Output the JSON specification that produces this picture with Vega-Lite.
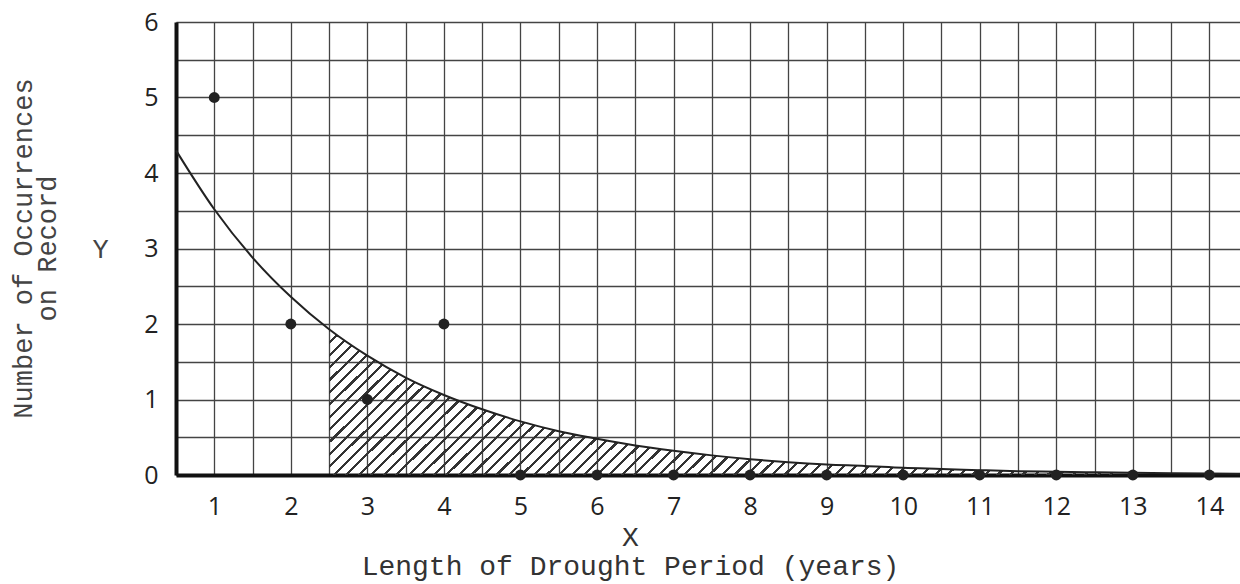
{
"$schema": "https://vega.github.io/schema/vega-lite/v6.json",
"width": 1064, "height": 453,
"autosize": {"type": "none"},
"padding": {"left": 176, "top": 22, "right": 0, "bottom": 109},
"background": "white",
"config": {"view": {"stroke": null}},
"title": {"text": ["Number of Occurrences", "on Record"], "orient": "left", "anchor": "middle", "frame": "group", "font": "Liberation Mono", "fontSize": 27, "fontWeight": "normal", "color": "#444", "lineHeight": 24, "offset": 30},
"datasets": {
"curve": [
{"x": 0.5, "y": 4.3}, {"x": 1.0, "y": 3.52}, {"x": 1.5, "y": 2.88}, {"x": 2.0, "y": 2.36}, {"x": 2.5, "y": 1.93},
{"x": 3.0, "y": 1.58}, {"x": 3.5, "y": 1.29}, {"x": 4.0, "y": 1.06}, {"x": 4.5, "y": 0.87}, {"x": 5.0, "y": 0.71},
{"x": 5.5, "y": 0.58}, {"x": 6.0, "y": 0.48}, {"x": 6.5, "y": 0.39}, {"x": 7.0, "y": 0.32}, {"x": 7.5, "y": 0.26},
{"x": 8.0, "y": 0.21}, {"x": 8.5, "y": 0.17}, {"x": 9.0, "y": 0.14}, {"x": 9.5, "y": 0.12}, {"x": 10.0, "y": 0.095},
{"x": 10.5, "y": 0.08}, {"x": 11.0, "y": 0.064}, {"x": 11.5, "y": 0.05}, {"x": 12.0, "y": 0.043}, {"x": 12.5, "y": 0.035},
{"x": 13.0, "y": 0.029}, {"x": 13.5, "y": 0.024}, {"x": 14.0, "y": 0.019}, {"x": 14.4, "y": 0.016}
],
"points": [
{"x": 1, "y": 5}, {"x": 2, "y": 2}, {"x": 3, "y": 1}, {"x": 4, "y": 2}, {"x": 5, "y": 0}, {"x": 6, "y": 0}, {"x": 7, "y": 0},
{"x": 8, "y": 0}, {"x": 9, "y": 0}, {"x": 10, "y": 0}, {"x": 11, "y": 0}, {"x": 12, "y": 0}, {"x": 13, "y": 0}, {"x": 14, "y": 0}
]
},
"layer": [
{
"data": {"name": "curve"},
"transform": [{"filter": "datum.x >= 2.5"}],
"mark": {"type": "area", "interpolate": "monotone", "fill": {"gradient": "linear", "x1": 0, "y1": 0, "x2": 1, "y2": 0.1618, "stops": [
{"offset":0,"color":"#333"},{"offset":0.0034,"color":"#333"},{"offset":0.0034,"color":"rgba(0,0,0,0)"},{"offset":0.0134,"color":"rgba(0,0,0,0)"},
{"offset":0.0134,"color":"#333"},{"offset":0.0168,"color":"#333"},{"offset":0.0168,"color":"rgba(0,0,0,0)"},{"offset":0.0268,"color":"rgba(0,0,0,0)"},
{"offset":0.0268,"color":"#333"},{"offset":0.0302,"color":"#333"},{"offset":0.0302,"color":"rgba(0,0,0,0)"},{"offset":0.0402,"color":"rgba(0,0,0,0)"},
{"offset":0.0402,"color":"#333"},{"offset":0.0436,"color":"#333"},{"offset":0.0436,"color":"rgba(0,0,0,0)"},{"offset":0.0536,"color":"rgba(0,0,0,0)"},
{"offset":0.0536,"color":"#333"},{"offset":0.057,"color":"#333"},{"offset":0.057,"color":"rgba(0,0,0,0)"},{"offset":0.067,"color":"rgba(0,0,0,0)"},
{"offset":0.067,"color":"#333"},{"offset":0.0704,"color":"#333"},{"offset":0.0704,"color":"rgba(0,0,0,0)"},{"offset":0.0804,"color":"rgba(0,0,0,0)"},
{"offset":0.0804,"color":"#333"},{"offset":0.0838,"color":"#333"},{"offset":0.0838,"color":"rgba(0,0,0,0)"},{"offset":0.0938,"color":"rgba(0,0,0,0)"},
{"offset":0.0938,"color":"#333"},{"offset":0.0972,"color":"#333"},{"offset":0.0972,"color":"rgba(0,0,0,0)"},{"offset":0.1072,"color":"rgba(0,0,0,0)"},
{"offset":0.1072,"color":"#333"},{"offset":0.1106,"color":"#333"},{"offset":0.1106,"color":"rgba(0,0,0,0)"},{"offset":0.1206,"color":"rgba(0,0,0,0)"},
{"offset":0.1206,"color":"#333"},{"offset":0.124,"color":"#333"},{"offset":0.124,"color":"rgba(0,0,0,0)"},{"offset":0.134,"color":"rgba(0,0,0,0)"},
{"offset":0.134,"color":"#333"},{"offset":0.1374,"color":"#333"},{"offset":0.1374,"color":"rgba(0,0,0,0)"},{"offset":0.1474,"color":"rgba(0,0,0,0)"},
{"offset":0.1474,"color":"#333"},{"offset":0.1508,"color":"#333"},{"offset":0.1508,"color":"rgba(0,0,0,0)"},{"offset":0.1608,"color":"rgba(0,0,0,0)"},
{"offset":0.1608,"color":"#333"},{"offset":0.1642,"color":"#333"},{"offset":0.1642,"color":"rgba(0,0,0,0)"},{"offset":0.1742,"color":"rgba(0,0,0,0)"},
{"offset":0.1742,"color":"#333"},{"offset":0.1776,"color":"#333"},{"offset":0.1776,"color":"rgba(0,0,0,0)"},{"offset":0.1876,"color":"rgba(0,0,0,0)"},
{"offset":0.1876,"color":"#333"},{"offset":0.191,"color":"#333"},{"offset":0.191,"color":"rgba(0,0,0,0)"},{"offset":0.201,"color":"rgba(0,0,0,0)"},
{"offset":0.201,"color":"#333"},{"offset":0.2044,"color":"#333"},{"offset":0.2044,"color":"rgba(0,0,0,0)"},{"offset":0.2144,"color":"rgba(0,0,0,0)"},
{"offset":0.2144,"color":"#333"},{"offset":0.2178,"color":"#333"},{"offset":0.2178,"color":"rgba(0,0,0,0)"},{"offset":0.2278,"color":"rgba(0,0,0,0)"},
{"offset":0.2278,"color":"#333"},{"offset":0.2312,"color":"#333"},{"offset":0.2312,"color":"rgba(0,0,0,0)"},{"offset":0.2412,"color":"rgba(0,0,0,0)"},
{"offset":0.2412,"color":"#333"},{"offset":0.2446,"color":"#333"},{"offset":0.2446,"color":"rgba(0,0,0,0)"},{"offset":0.2546,"color":"rgba(0,0,0,0)"},
{"offset":0.2546,"color":"#333"},{"offset":0.258,"color":"#333"},{"offset":0.258,"color":"rgba(0,0,0,0)"},{"offset":0.268,"color":"rgba(0,0,0,0)"},
{"offset":0.268,"color":"#333"},{"offset":0.2714,"color":"#333"},{"offset":0.2714,"color":"rgba(0,0,0,0)"},{"offset":0.2814,"color":"rgba(0,0,0,0)"},
{"offset":0.2814,"color":"#333"},{"offset":0.2848,"color":"#333"},{"offset":0.2848,"color":"rgba(0,0,0,0)"},{"offset":0.2948,"color":"rgba(0,0,0,0)"},
{"offset":0.2948,"color":"#333"},{"offset":0.2982,"color":"#333"},{"offset":0.2982,"color":"rgba(0,0,0,0)"},{"offset":0.3082,"color":"rgba(0,0,0,0)"},
{"offset":0.3082,"color":"#333"},{"offset":0.3116,"color":"#333"},{"offset":0.3116,"color":"rgba(0,0,0,0)"},{"offset":0.3216,"color":"rgba(0,0,0,0)"},
{"offset":0.3216,"color":"#333"},{"offset":0.325,"color":"#333"},{"offset":0.325,"color":"rgba(0,0,0,0)"},{"offset":0.335,"color":"rgba(0,0,0,0)"},
{"offset":0.335,"color":"#333"},{"offset":0.3384,"color":"#333"},{"offset":0.3384,"color":"rgba(0,0,0,0)"},{"offset":0.3484,"color":"rgba(0,0,0,0)"},
{"offset":0.3484,"color":"#333"},{"offset":0.3518,"color":"#333"},{"offset":0.3518,"color":"rgba(0,0,0,0)"},{"offset":0.3618,"color":"rgba(0,0,0,0)"},
{"offset":0.3618,"color":"#333"},{"offset":0.3652,"color":"#333"},{"offset":0.3652,"color":"rgba(0,0,0,0)"},{"offset":0.3752,"color":"rgba(0,0,0,0)"},
{"offset":0.3752,"color":"#333"},{"offset":0.3786,"color":"#333"},{"offset":0.3786,"color":"rgba(0,0,0,0)"},{"offset":0.3886,"color":"rgba(0,0,0,0)"},
{"offset":0.3886,"color":"#333"},{"offset":0.392,"color":"#333"},{"offset":0.392,"color":"rgba(0,0,0,0)"},{"offset":0.402,"color":"rgba(0,0,0,0)"},
{"offset":0.402,"color":"#333"},{"offset":0.4054,"color":"#333"},{"offset":0.4054,"color":"rgba(0,0,0,0)"},{"offset":0.4154,"color":"rgba(0,0,0,0)"},
{"offset":0.4154,"color":"#333"},{"offset":0.4188,"color":"#333"},{"offset":0.4188,"color":"rgba(0,0,0,0)"},{"offset":0.4288,"color":"rgba(0,0,0,0)"},
{"offset":0.4288,"color":"#333"},{"offset":0.4322,"color":"#333"},{"offset":0.4322,"color":"rgba(0,0,0,0)"},{"offset":0.4422,"color":"rgba(0,0,0,0)"},
{"offset":0.4422,"color":"#333"},{"offset":0.4456,"color":"#333"},{"offset":0.4456,"color":"rgba(0,0,0,0)"},{"offset":0.4556,"color":"rgba(0,0,0,0)"},
{"offset":0.4556,"color":"#333"},{"offset":0.459,"color":"#333"},{"offset":0.459,"color":"rgba(0,0,0,0)"},{"offset":0.469,"color":"rgba(0,0,0,0)"},
{"offset":0.469,"color":"#333"},{"offset":0.4724,"color":"#333"},{"offset":0.4724,"color":"rgba(0,0,0,0)"},{"offset":0.4824,"color":"rgba(0,0,0,0)"},
{"offset":0.4824,"color":"#333"},{"offset":0.4858,"color":"#333"},{"offset":0.4858,"color":"rgba(0,0,0,0)"},{"offset":0.4958,"color":"rgba(0,0,0,0)"},
{"offset":0.4958,"color":"#333"},{"offset":0.4992,"color":"#333"},{"offset":0.4992,"color":"rgba(0,0,0,0)"},{"offset":0.5092,"color":"rgba(0,0,0,0)"},
{"offset":0.5092,"color":"#333"},{"offset":0.5126,"color":"#333"},{"offset":0.5126,"color":"rgba(0,0,0,0)"},{"offset":0.5226,"color":"rgba(0,0,0,0)"},
{"offset":0.5226,"color":"#333"},{"offset":0.526,"color":"#333"},{"offset":0.526,"color":"rgba(0,0,0,0)"},{"offset":0.536,"color":"rgba(0,0,0,0)"},
{"offset":0.536,"color":"#333"},{"offset":0.5394,"color":"#333"},{"offset":0.5394,"color":"rgba(0,0,0,0)"},{"offset":0.5494,"color":"rgba(0,0,0,0)"},
{"offset":0.5494,"color":"#333"},{"offset":0.5528,"color":"#333"},{"offset":0.5528,"color":"rgba(0,0,0,0)"},{"offset":0.5628,"color":"rgba(0,0,0,0)"},
{"offset":0.5628,"color":"#333"},{"offset":0.5662,"color":"#333"},{"offset":0.5662,"color":"rgba(0,0,0,0)"},{"offset":0.5762,"color":"rgba(0,0,0,0)"},
{"offset":0.5762,"color":"#333"},{"offset":0.5796,"color":"#333"},{"offset":0.5796,"color":"rgba(0,0,0,0)"},{"offset":0.5896,"color":"rgba(0,0,0,0)"},
{"offset":0.5896,"color":"#333"},{"offset":0.593,"color":"#333"},{"offset":0.593,"color":"rgba(0,0,0,0)"},{"offset":0.603,"color":"rgba(0,0,0,0)"},
{"offset":0.603,"color":"#333"},{"offset":0.6064,"color":"#333"},{"offset":0.6064,"color":"rgba(0,0,0,0)"},{"offset":0.6164,"color":"rgba(0,0,0,0)"},
{"offset":0.6164,"color":"#333"},{"offset":0.6198,"color":"#333"},{"offset":0.6198,"color":"rgba(0,0,0,0)"},{"offset":0.6298,"color":"rgba(0,0,0,0)"},
{"offset":0.6298,"color":"#333"},{"offset":0.6332,"color":"#333"},{"offset":0.6332,"color":"rgba(0,0,0,0)"},{"offset":0.6432,"color":"rgba(0,0,0,0)"},
{"offset":0.6432,"color":"#333"},{"offset":0.6466,"color":"#333"},{"offset":0.6466,"color":"rgba(0,0,0,0)"},{"offset":0.6566,"color":"rgba(0,0,0,0)"},
{"offset":0.6566,"color":"#333"},{"offset":0.66,"color":"#333"},{"offset":0.66,"color":"rgba(0,0,0,0)"},{"offset":0.67,"color":"rgba(0,0,0,0)"},
{"offset":0.67,"color":"#333"},{"offset":0.6734,"color":"#333"},{"offset":0.6734,"color":"rgba(0,0,0,0)"},{"offset":0.6834,"color":"rgba(0,0,0,0)"},
{"offset":0.6834,"color":"#333"},{"offset":0.6868,"color":"#333"},{"offset":0.6868,"color":"rgba(0,0,0,0)"},{"offset":0.6968,"color":"rgba(0,0,0,0)"},
{"offset":0.6968,"color":"#333"},{"offset":0.7002,"color":"#333"},{"offset":0.7002,"color":"rgba(0,0,0,0)"},{"offset":0.7102,"color":"rgba(0,0,0,0)"},
{"offset":0.7102,"color":"#333"},{"offset":0.7136,"color":"#333"},{"offset":0.7136,"color":"rgba(0,0,0,0)"},{"offset":0.7236,"color":"rgba(0,0,0,0)"},
{"offset":0.7236,"color":"#333"},{"offset":0.727,"color":"#333"},{"offset":0.727,"color":"rgba(0,0,0,0)"},{"offset":0.737,"color":"rgba(0,0,0,0)"},
{"offset":0.737,"color":"#333"},{"offset":0.7404,"color":"#333"},{"offset":0.7404,"color":"rgba(0,0,0,0)"},{"offset":0.7504,"color":"rgba(0,0,0,0)"},
{"offset":0.7504,"color":"#333"},{"offset":0.7538,"color":"#333"},{"offset":0.7538,"color":"rgba(0,0,0,0)"},{"offset":0.7638,"color":"rgba(0,0,0,0)"},
{"offset":0.7638,"color":"#333"},{"offset":0.7672,"color":"#333"},{"offset":0.7672,"color":"rgba(0,0,0,0)"},{"offset":0.7772,"color":"rgba(0,0,0,0)"},
{"offset":0.7772,"color":"#333"},{"offset":0.7806,"color":"#333"},{"offset":0.7806,"color":"rgba(0,0,0,0)"},{"offset":0.7906,"color":"rgba(0,0,0,0)"},
{"offset":0.7906,"color":"#333"},{"offset":0.794,"color":"#333"},{"offset":0.794,"color":"rgba(0,0,0,0)"},{"offset":0.804,"color":"rgba(0,0,0,0)"},
{"offset":0.804,"color":"#333"},{"offset":0.8074,"color":"#333"},{"offset":0.8074,"color":"rgba(0,0,0,0)"},{"offset":0.8174,"color":"rgba(0,0,0,0)"},
{"offset":0.8174,"color":"#333"},{"offset":0.8208,"color":"#333"},{"offset":0.8208,"color":"rgba(0,0,0,0)"},{"offset":0.8308,"color":"rgba(0,0,0,0)"},
{"offset":0.8308,"color":"#333"},{"offset":0.8342,"color":"#333"},{"offset":0.8342,"color":"rgba(0,0,0,0)"},{"offset":0.8442,"color":"rgba(0,0,0,0)"},
{"offset":0.8442,"color":"#333"},{"offset":0.8476,"color":"#333"},{"offset":0.8476,"color":"rgba(0,0,0,0)"},{"offset":0.8576,"color":"rgba(0,0,0,0)"},
{"offset":0.8576,"color":"#333"},{"offset":0.861,"color":"#333"},{"offset":0.861,"color":"rgba(0,0,0,0)"},{"offset":0.871,"color":"rgba(0,0,0,0)"},
{"offset":0.871,"color":"#333"},{"offset":0.8744,"color":"#333"},{"offset":0.8744,"color":"rgba(0,0,0,0)"},{"offset":0.8844,"color":"rgba(0,0,0,0)"},
{"offset":0.8844,"color":"#333"},{"offset":0.8878,"color":"#333"},{"offset":0.8878,"color":"rgba(0,0,0,0)"},{"offset":0.8978,"color":"rgba(0,0,0,0)"},
{"offset":0.8978,"color":"#333"},{"offset":0.9012,"color":"#333"},{"offset":0.9012,"color":"rgba(0,0,0,0)"},{"offset":0.9112,"color":"rgba(0,0,0,0)"},
{"offset":0.9112,"color":"#333"},{"offset":0.9146,"color":"#333"},{"offset":0.9146,"color":"rgba(0,0,0,0)"},{"offset":0.9246,"color":"rgba(0,0,0,0)"},
{"offset":0.9246,"color":"#333"},{"offset":0.928,"color":"#333"},{"offset":0.928,"color":"rgba(0,0,0,0)"},{"offset":0.938,"color":"rgba(0,0,0,0)"},
{"offset":0.938,"color":"#333"},{"offset":0.9414,"color":"#333"},{"offset":0.9414,"color":"rgba(0,0,0,0)"},{"offset":0.9514,"color":"rgba(0,0,0,0)"},
{"offset":0.9514,"color":"#333"},{"offset":0.9548,"color":"#333"},{"offset":0.9548,"color":"rgba(0,0,0,0)"},{"offset":0.9648,"color":"rgba(0,0,0,0)"},
{"offset":0.9648,"color":"#333"},{"offset":0.9682,"color":"#333"},{"offset":0.9682,"color":"rgba(0,0,0,0)"},{"offset":0.9782,"color":"rgba(0,0,0,0)"},
{"offset":0.9782,"color":"#333"},{"offset":0.9816,"color":"#333"},{"offset":0.9816,"color":"rgba(0,0,0,0)"},{"offset":0.9916,"color":"rgba(0,0,0,0)"},
{"offset":0.9916,"color":"#333"},{"offset":0.995,"color":"#333"},{"offset":0.995,"color":"rgba(0,0,0,0)"},{"offset":1,"color":"rgba(0,0,0,0)"}
]}},
"encoding": {
"x": {"field": "x", "type": "quantitative",
 "scale": {"domain": [0.5, 14.4], "nice": false, "zero": false},
 "axis": {"values": [0.5,1,1.5,2,2.5,3,3.5,4,4.5,5,5.5,6,6.5,7,7.5,8,8.5,9,9.5,10,10.5,11,11.5,12,12.5,13,13.5,14],
  "tickCount": 200,
  "labelExpr": "datum.value % 1 === 0 ? '' + datum.value : ''",
  "grid": true, "gridColor": "#444", "gridWidth": 1.3, "gridOpacity": 1, "ticks": false,
  "domainColor": "#111", "domainWidth": 4,
  "labelFont": "Open Sans", "labelFontSize": 25, "labelColor": "#222", "labelPadding": 19, "labelFlush": false, "labelOverlap": false,
  "title": ["X", "Length of Drought Period (years)"], "titleFont": "Liberation Mono", "titleFontSize": 28, "titleFontWeight": "normal", "titleColor": "#333",
  "titleX": 454, "titleY": 48, "titleAlign": "center", "titleBaseline": "top", "titleLineHeight": 29}},
"y": {"field": "y", "type": "quantitative",
 "scale": {"domain": [0, 6], "nice": false},
 "axis": {"values": [0,0.5,1,1.5,2,2.5,3,3.5,4,4.5,5,5.5,6],
  "tickCount": 200,
  "labelExpr": "datum.value % 1 === 0 ? '' + datum.value : ''",
  "grid": true, "gridColor": "#444", "gridWidth": 1.3, "gridOpacity": 1, "ticks": false,
  "domainColor": "#111", "domainWidth": 4,
  "labelFont": "Open Sans", "labelFontSize": 25, "labelColor": "#222", "labelPadding": 18, "labelOverlap": false,
  "title": "Y", "titleAngle": 0, "titleX": -76, "titleY": 227, "titleAlign": "center", "titleBaseline": "middle",
  "titleFont": "Liberation Mono", "titleFontSize": 27, "titleFontWeight": "normal", "titleColor": "#444"}}
}
},
{
"data": {"name": "curve"},
"mark": {"type": "line", "interpolate": "monotone", "color": "#222", "strokeWidth": 2},
"encoding": {"x": {"field": "x", "type": "quantitative"}, "y": {"field": "y", "type": "quantitative"}}
},
{
"data": {"name": "points"},
"mark": {"type": "point", "filled": true, "color": "#222", "opacity": 1, "size": 120},
"encoding": {"x": {"field": "x", "type": "quantitative"}, "y": {"field": "y", "type": "quantitative"}}
}
]
}
